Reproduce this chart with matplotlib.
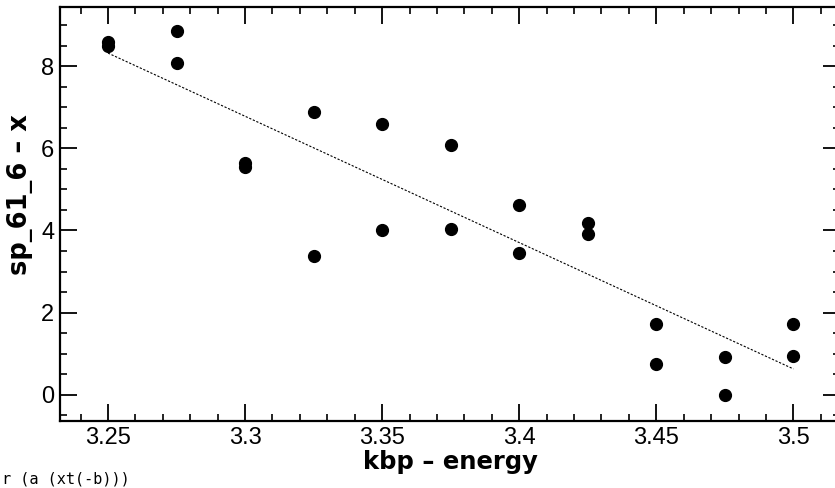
import numpy as np
import matplotlib
matplotlib.use("Agg")
from matplotlib import pyplot as plt
import matplotlib.ticker as mticker

# kbp energy vs sp_61_6 - x (two runs per energy)
energy = [3.25, 3.25, 3.275, 3.275, 3.3, 3.3, 3.325, 3.325, 3.35, 3.35, 3.375, 3.375,
          3.4, 3.4, 3.425, 3.425, 3.45, 3.45, 3.475, 3.475, 3.5, 3.5]
sp = [8.6, 8.5, 8.85, 8.07, 5.65, 5.55, 6.89, 3.37, 6.59, 4.0, 6.07, 4.03,
      4.63, 3.45, 4.18, 3.92, 1.71, 0.76, 0.93, 0.0, 1.71, 0.95]
footer = "r (a (xt(-b)))"

fig = plt.figure(figsize=(8.35, 4.88), dpi=100)
ax = fig.add_axes([60/835, 67/488, 780/835, 414/488])

ax.plot(energy, sp, 'o', color='black', markersize=8.5, zorder=3)

# least squares line
k, b = np.polyfit(energy, sp, 1)
xl = np.array([min(energy), max(energy)])
ax.plot(xl, k*xl + b, color='black', lw=0.8, linestyle=(0, (2, 1.5)))

ax.set_xlim(3.2325, 3.517)
ax.set_ylim(-0.64, 9.44)
ax.set_xticks([3.25, 3.3, 3.35, 3.4, 3.45, 3.5])
ax.set_xticklabels(["3.25", "3.3", "3.35", "3.4", "3.45", "3.5"])
ax.set_yticks([0, 2, 4, 6, 8])
ax.xaxis.set_minor_locator(mticker.MultipleLocator(0.01))
ax.yaxis.set_minor_locator(mticker.MultipleLocator(0.5))

ax.tick_params(which='both', direction='in', top=True, right=True, color='black')
ax.tick_params(which='major', length=12, width=1.3, pad=4)
ax.tick_params(which='minor', length=5, width=1.2)
for lab in ax.get_xticklabels() + ax.get_yticklabels():
    lab.set_fontfamily('Liberation Sans')
    lab.set_fontsize(17)
for s in ax.spines.values():
    s.set_linewidth(1.6)

ax.set_xlabel("kbp – energy", fontsize=17.5, fontweight='bold', labelpad=1)
fig.text(20/835, 1 - 195/488, "sp_61_6 – x", rotation=90, fontsize=18.5,
         fontweight='bold', ha='center', va='center')
fig.text(0.002, 0.004, footer, family='DejaVu Sans Mono', fontsize=11,
         ha='left', va='bottom')

fig.savefig("out.png", dpi=100)
